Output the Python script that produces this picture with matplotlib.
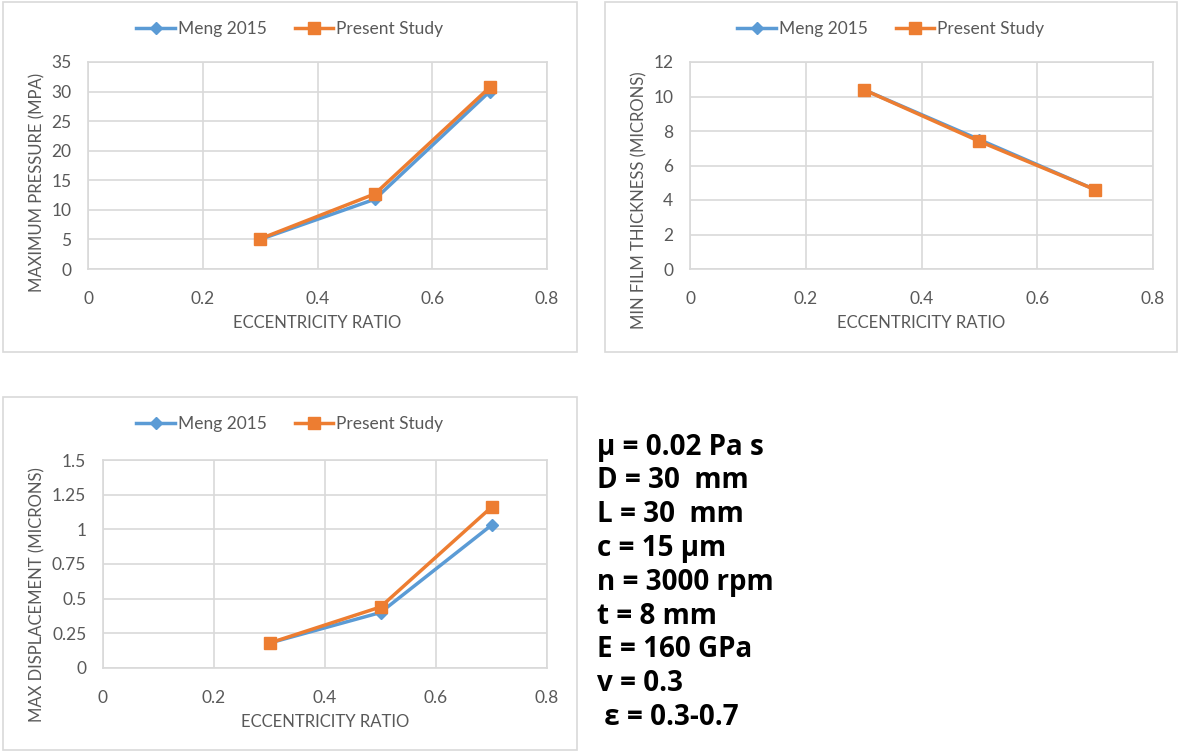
import matplotlib.pyplot as plt
from matplotlib.patches import Rectangle

# eccentricity ratio
ecc = [0.3, 0.5, 0.7]

# max pressure (MPa)
meng_pressure = [5.0, 11.8, 30.0]
present_pressure = [5.1, 12.7, 30.7]

# min film thickness (microns)
meng_film = [10.4, 7.5, 4.6]
present_film = [10.4, 7.4, 4.6]

# max displacement (microns)
meng_disp = [0.18, 0.40, 1.03]
present_disp = [0.18, 0.44, 1.16]

params = ["\u00b5 = 0.02 Pa s", "D = 30  mm", "L = 30  mm", "c = 15 \u00b5m",
          "n = 3000 rpm", "t = 8 mm", "E = 160 GPa", "v = 0.3", " \u03b5 = 0.3-0.7"]

BLUE = "#5b9bd5"
ORANGE = "#ed7d31"
GRAY = "#595959"
GRID = "#d9d9d9"
W, H = 1179, 754

plt.rcParams["font.family"] = ["Lato", "DejaVu Sans"]

fig = plt.figure(figsize=(W / 100, H / 100), dpi=100)


def px(x0, y0, x1, y1):
    # pixel box (top-left origin) -> figure fraction rect
    return [x0 / W, 1 - y1 / H, (x1 - x0) / W, (y1 - y0) / H]


def panel(rect, box, meng, present, ylim, yticks, yticklabels, ylabel, ylab_y):
    fig.patches.append(Rectangle((box[0] / W, 1 - box[3] / H),
                                 (box[2] - box[0]) / W, (box[3] - box[1]) / H,
                                 transform=fig.transFigure, fill=False,
                                 edgecolor=GRID, linewidth=1.2))
    ax = fig.add_axes(px(*rect))
    ax.plot(ecc, meng, color=BLUE, marker="D", markersize=6, linewidth=2.5,
            label="Meng 2015")
    ax.plot(ecc, present, color=ORANGE, marker="s", markersize=9, linewidth=2.5,
            label="Present Study")
    ax.set_xlim(0, 0.8)
    ax.set_ylim(*ylim)
    ax.set_xticks([0, 0.2, 0.4, 0.6, 0.8])
    ax.set_xticklabels(["0", "0.2", "0.4", "0.6", "0.8"])
    ax.set_yticks(yticks)
    ax.set_yticklabels(yticklabels)
    ax.grid(True, color=GRID, linewidth=1.2)
    ax.set_axisbelow(True)
    for s in ax.spines.values():
        s.set_color(GRID)
        s.set_linewidth(1.2)
    ax.tick_params(length=0, colors=GRAY, labelsize=12.5)
    ax.tick_params(axis="x", pad=16)
    ax.tick_params(axis="y", pad=12)
    cx = (box[0] + box[2]) / 2
    ax.legend(loc="center", bbox_to_anchor=(cx / W, 1 - (box[1] + 27) / H),
              bbox_transform=fig.transFigure, ncol=2, frameon=False,
              fontsize=12.5, labelcolor=GRAY, handlelength=2.2,
              handletextpad=0.2, columnspacing=1.6)
    xc = (rect[0] + rect[2]) / 2
    fig.text(xc / W, 1 - (rect[3] + 54) / H, "ECCENTRICITY RATIO",
             ha="center", va="center", color=GRAY, fontsize=12)
    fig.text((box[0] + 34) / W, 1 - ylab_y / H, ylabel, rotation=90,
             ha="center", va="center", color=GRAY, fontsize=12)
    return ax


panel((88, 62, 547, 269), (3, 2, 577, 352), meng_pressure, present_pressure,
      (0, 35), [0, 5, 10, 15, 20, 25, 30, 35],
      ["0", "5", "10", "15", "20", "25", "30", "35"],
      "MAXIMUM PRESSURE (MPA)", 182)
panel((690, 62, 1153, 269), (605, 2, 1177, 352), meng_film, present_film,
      (0, 12), [0, 2, 4, 6, 8, 10, 12],
      ["0", "2", "4", "6", "8", "10", "12"],
      "MIN FILM THICKNESS (MICRONS)", 200)
panel((103, 460, 547, 668), (3, 397, 577, 750), meng_disp, present_disp,
      (0, 1.5), [0, 0.25, 0.5, 0.75, 1, 1.25, 1.5],
      ["0", "0.25", "0.5", "0.75", "1", "1.25", "1.5"],
      "MAX DISPLACEMENT (MICRONS)", 595)

for i, t in enumerate(params):
    fig.text(597 / W, 1 - (447 + i * 33.8) / H, t, ha="left", va="center",
             fontsize=20, fontweight="bold", color="black",
             family=["Open Sans", "DejaVu Sans"])

fig.savefig("out.png", dpi=100)
